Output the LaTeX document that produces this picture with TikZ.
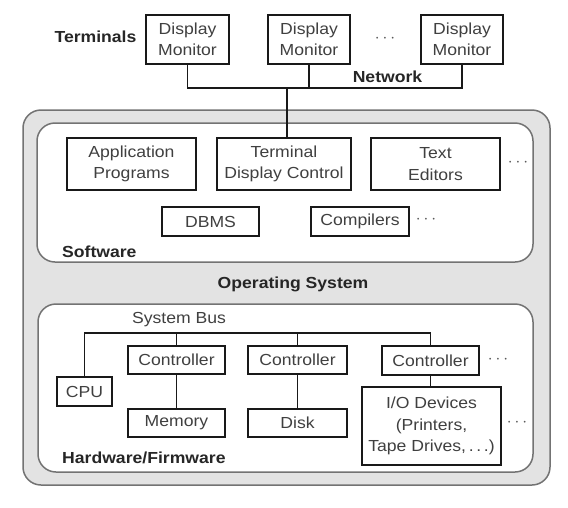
\documentclass[tikz,border=0pt]{standalone}
\usepackage{fontspec}
\setmainfont{Liberation Sans}[FakeStretch=1.1]
\begin{document}
\begin{tikzpicture}[x=1pt,y=-1pt,
  box/.style={draw=black!90, line width=1.7pt, fill=white, text=black!75, align=center, inner sep=0pt, font=\fontsize{16}{21.5}\selectfont},
  lbl/.style={font=\bfseries\fontsize{16}{18}\selectfont, text=black!85, inner sep=0pt},
  txt/.style={font=\fontsize{16}{18}\selectfont, text=black!75, inner sep=0pt},
  wire/.style={line width=1.7pt, draw=black!90},
  panel/.style={draw=black!55, line width=1.5pt, rounded corners=18pt},
  dotsnode/.style={text=black!65, inner sep=0pt, font=\fontsize{19}{20}\selectfont}]
\useasboundingbox[fill=white] (0,0) rectangle (568,507);

% panels
\draw[panel, fill=black!11] (23,110) rectangle (550,485);
\draw[panel, fill=white] (37,123) rectangle (533,262);
\draw[panel, fill=white] (38,304) rectangle (533,472);

% terminals
\node[lbl] (terminals) at (95.5,37) {Terminals};
\node[box, minimum width=83pt, minimum height=49pt] (t1) at (187.5,39.5) {Display\\Monitor};
\node[box, minimum width=82pt, minimum height=49pt] (t2) at (309,39.5) {Display\\Monitor};
\node[box, minimum width=82pt, minimum height=49pt] (t3) at (462,39.5) {Display\\Monitor};
\node[dotsnode] (tdots) at (385,39) {$\cdots$};
\node[lbl] (network) at (387.5,77) {Network};

% software
\node[box, minimum width=129pt, minimum height=52pt] (app) at (131.5,164) {Application\\Programs};
\node[box, minimum width=134pt, minimum height=52pt] (tdc) at (284,164) {Terminal\\Display Control};
\node[box, minimum width=129pt, minimum height=52pt] (ted) at (435.5,164) {Text\\Editors};
\node[dotsnode] (sdots1) at (518,163) {$\cdots$};
\node[box, minimum width=97pt, minimum height=29pt] (dbms) at (210.5,221.5) {DBMS};
\node[box, minimum width=98pt, minimum height=29pt] (comp) at (360,221.5) {Compilers};
\node[dotsnode] (sdots2) at (426,220) {$\cdots$};
\node[lbl, anchor=base west] (software) at (62,257) {Software};
\node[lbl] (os) at (293,284) {Operating System};

% hardware
\node[txt] (sysbus) at (179,320) {System Bus};
\node[box, minimum width=55pt, minimum height=29pt] (cpu) at (84.5,391.5) {CPU};
\node[box, minimum width=97pt, minimum height=28pt] (c1) at (176.5,360) {Controller};
\node[box, minimum width=99pt, minimum height=28pt] (c2) at (297.5,360) {Controller};
\node[box, minimum width=97pt, minimum height=29pt] (c3) at (430.5,360.5) {Controller};
\node[dotsnode] (hdots1) at (498,360) {$\cdots$};
\node[box, minimum width=97pt, minimum height=28pt] (mem) at (176.5,423) {Memory};
\node[box, minimum width=99pt, minimum height=28pt] (disk) at (297.5,423) {Disk};
\node[box, minimum width=139pt, minimum height=78pt] (io) at (431.5,426) {I/O Devices\\(Printers,\\Tape Drives,\,.\,.\,.)};
\node[dotsnode] (hdots2) at (517,423) {$\cdots$};
\node[lbl, anchor=base west] (hw) at (62,463) {Hardware/Firmware};

% network wiring
\coordinate (net) at (287,88);
\draw[wire] (t1.south) |- (net) -| (t3.south);
\draw[wire] (t2.south) -- (t2.south |- net);
\draw[wire] (net) -- (net |- tdc.north);

% system bus wiring
\coordinate (bus) at (0,333);
\draw[wire] (cpu.north) |- (c3.north |- bus) -- (c3.north);
\draw[wire] (c1.north) -- (c1.north |- bus);
\draw[wire] (c2.north) -- (c2.north |- bus);
\draw[wire] (c1.south) -- (mem.north);
\draw[wire] (c2.south) -- (disk.north);
\draw[wire] (c3.south) -- (c3.south |- io.north);
\end{tikzpicture}
\end{document}
